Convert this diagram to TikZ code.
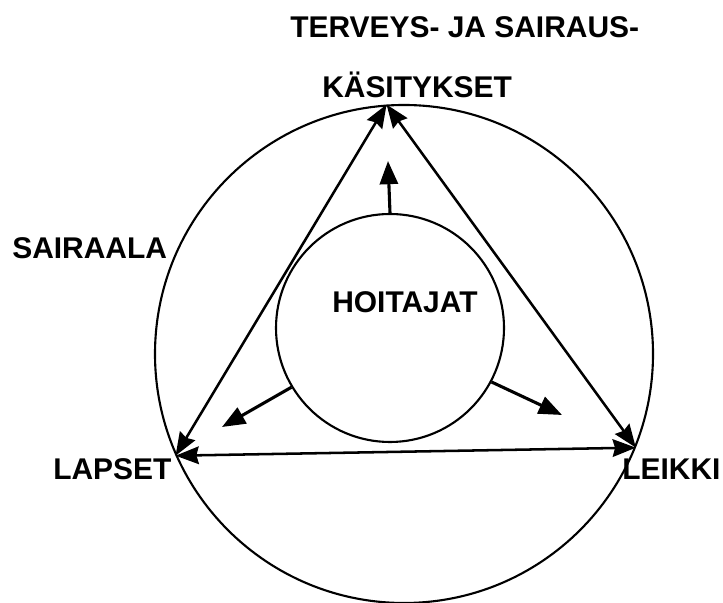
\documentclass[tikz,border=0pt]{standalone}
\usepackage{fontspec}
\setsansfont{Liberation Sans}
\usepackage{tikz}
\usetikzlibrary{arrows.meta}

\begin{document}
\begin{tikzpicture}[
  lbl/.style={font=\fontsize{21.3}{25}\selectfont\sffamily\bfseries,
              inner sep=0pt, anchor=base west},
  ring/.style={draw, circle, line width=1.5pt, inner sep=0pt},
  tri/.style={{Stealth[length=0.58cm,width=0.44cm,inset=0.06cm]}-{Stealth[length=0.58cm,width=0.44cm,inset=0.06cm]},
              line width=1.8pt},
  outw/.style={-{Triangle[length=0.58cm,width=0.45cm]}, line width=2.2pt}]
\useasboundingbox (0,0) rectangle (18.075,15.075);

% ================= circles =================
\node[ring, minimum size=12.45cm] (sair) at (10.1,6.225) {};
\node[ring, minimum size=5.7cm] (hoit) at (9.75,6.875) {};

% ================= triangle =================
% corners sit on the outer ring
\coordinate (kas) at (sair.94);
\coordinate (lap) at (sair.204);
\coordinate (lei) at (sair.338);
\foreach \a/\b in {kas/lap, lap/lei, lei/kas}
  \draw[tri] (\a) -- (\b);

% ================= arrows out of the inner ring =================
\coordinate (k1) at (9.70,11.05);
\coordinate (l1) at (5.55,4.40);
\coordinate (r1) at (14.05,4.70);
\draw[outw] (hoit.90) -- (k1);
\draw[outw] (hoit.211) -- (l1);
\draw[outw] (hoit.332) -- (r1);

% ================= labels =================
\node[lbl] (terv) at (7.25,14.13) {TERVEYS- JA SAIRAUS-};
\node[lbl] (kasi) at (8.05,12.63) {KÄSITYKSET};
\node[lbl] (sairaala) at (0.30,8.61) {SAIRAALA};
\node[lbl] (hoitajat) at (8.30,7.26) {HOITAJAT};
\node[lbl] (lapset) at (1.325,3.08) {LAPSET};
\node[lbl] (leikki) at (15.55,3.08) {LEIKKI};
\end{tikzpicture}
\end{document}
